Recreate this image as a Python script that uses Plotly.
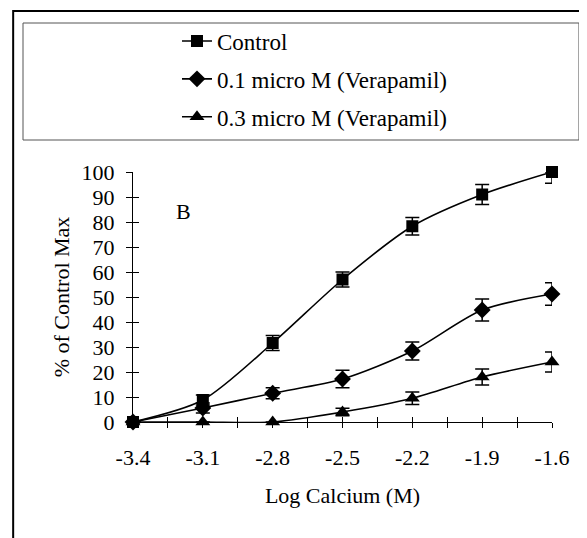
import plotly.graph_objects as go

x_vals = [-3.4, -3.1, -2.8, -2.5, -2.2, -1.9, -1.6]

control = [0, 8.8, 31.6, 57, 78.3, 91, 100]
control_err_up = [0, 2, 3, 3, 3.5, 4, None]
control_err_down = [0, 2, 3, 3, 3.5, 4, 4.5]

vera01 = [0, 5.6, 11.5, 17.2, 28.4, 44.8, 51.2]
vera01_err = [0, 2, 2.2, 3.5, 3.6, 4.4, 4.5]

vera03 = [0, 0, 0, 4, 9.5, 18, 24]
vera03_err = [0, 0, 0, 1.5, 2.5, 3.2, 4]

series_names = ["Control", "0.1 micro M (Verapamil)", "0.3 micro M (Verapamil)"]

x_tick_vals = [-3.4, -3.25, -3.1, -2.95, -2.8, -2.65, -2.5, -2.35, -2.2, -2.05, -1.9, -1.75, -1.6]
x_tick_text = ["-3.4", "", "-3.1", "", "-2.8", "", "-2.5", "", "-2.2", "", "-1.9", "", "-1.6"]
y_tick_vals = [0, 10, 20, 30, 40, 50, 60, 70, 80, 90, 100]

FONT = "Liberation Serif"

fig = go.Figure()

def add(y, up, down, name, symbol, size):
    fig.add_trace(go.Scatter(
        x=x_vals, y=y, name=name, mode="lines+markers",
        line=dict(color="black", width=1.6, shape="spline", smoothing=0.8),
        marker=dict(symbol=symbol, size=size, color="black"),
        error_y=dict(type="data", symmetric=False, array=up, arrayminus=down,
                     color="black", thickness=1.5, width=7),
        cliponaxis=False, legendgroup=name,
    ))

add(control, control_err_up, control_err_down, series_names[0], "square", 12)
add(vera01, vera01_err, vera01_err, series_names[1], "diamond", 13)
add(vera03, vera03_err, vera03_err, series_names[2], "triangle-up", 13)

# outer frame and legend box
fig.add_shape(type="rect", xref="paper", yref="paper", x0=-0.286, x1=1.3, y0=-0.6, y1=1.644,
              line=dict(color="black", width=2), fillcolor="rgba(0,0,0,0)", layer="below")
fig.add_shape(type="rect", xref="paper", yref="paper", x0=-0.2625, x1=1.0644, y0=1.128, y1=1.596,
              line=dict(color="#555555", width=1), fillcolor="rgba(0,0,0,0)", layer="below")

fig.add_annotation(x=-3.185, y=84.4, xref="x", yref="y", text="B", showarrow=False,
                   font=dict(family=FONT, size=22, color="black"))

fig.update_layout(
    width=587, height=538,
    margin=dict(l=125, r=43, t=164, b=124),
    paper_bgcolor="white", plot_bgcolor="white",
    font=dict(family=FONT, size=22, color="black"),
    showlegend=True,
    legend=dict(x=0.105, y=1.61, xanchor="left", yanchor="top", bgcolor="rgba(0,0,0,0)",
                borderwidth=0, tracegroupgap=5, font=dict(family=FONT, size=23)),
    xaxis=dict(range=[-3.4, -1.6], tickvals=x_tick_vals, ticktext=x_tick_text,
               ticks="outside", ticklen=5, tickwidth=1, tickcolor="black",
               ticklabelstandoff=11, tickfont=dict(size=22),
               showline=True, linecolor="black", linewidth=1, showgrid=False, zeroline=False,
               title=dict(text="Log Calcium (M)", standoff=18, font=dict(size=22))),
    yaxis=dict(range=[0, 100], tickvals=y_tick_vals,
               ticks="outside", ticklen=6, tickwidth=1, tickcolor="black",
               ticklabelstandoff=7, tickfont=dict(size=22),
               showline=True, linecolor="black", linewidth=1, showgrid=False, zeroline=False,
               title=dict(text="% of Control Max", standoff=5, font=dict(size=22))),
    xaxis2=dict(overlaying="x", matches="x", range=[-3.4, -1.6], tickvals=x_tick_vals,
                ticks="inside", ticklen=5, tickcolor="black", showticklabels=False,
                showgrid=False, zeroline=False, showline=False, anchor="y"),
    yaxis2=dict(overlaying="y", matches="y", range=[0, 100], tickvals=y_tick_vals,
                ticks="inside", ticklen=6, tickcolor="black", showticklabels=False,
                showgrid=False, zeroline=False, showline=False, anchor="x"),
)

fig.add_trace(go.Scatter(x=[None], y=[None], xaxis="x2", yaxis="y2", showlegend=False,
                         hoverinfo="skip"))

fig.write_html("out.html")
